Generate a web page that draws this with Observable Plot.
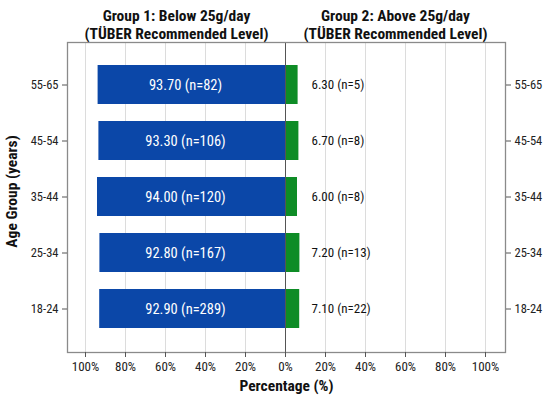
<!DOCTYPE html>
<html>
<head>
<meta charset="utf-8">
<script src="https://cdn.jsdelivr.net/npm/d3@7"></script>
<script src="https://cdn.jsdelivr.net/npm/@observablehq/plot@0.6"></script>
<style>
  html, body { margin: 0; padding: 0; background: #fff; }
</style>
</head>
<body>
<div id="chart"></div>
<script>
const ages = ["18-24", "25-34", "35-44", "45-54", "55-65"];
const belowPct = [92.9, 92.8, 94.0, 93.3, 93.7];
const abovePct = [7.1, 7.2, 6.0, 6.7, 6.3];
const belowN = [289, 167, 120, 106, 82];
const aboveN = [22, 13, 8, 8, 5];
const xTicks = [-100, -80, -60, -40, -20, 0, 20, 40, 60, 80, 100];
const groupTitles = ["Group 1: Below 25g/day\n(TÜBER Recommended Level)", "Group 2: Above 25g/day\n(TÜBER Recommended Level)"];
const xDomain = [-109, 110];

const rows = ages.map((a, i) => ({age: a, below: belowPct[i], above: abovePct[i], nb: belowN[i], na: aboveN[i]}));
const titles = groupTitles.map((t, i) => ({t, x: i === 0 ? (xDomain[0] + 0) / 2 : (xDomain[1] + 0) / 2}));
const yOrder = ages.slice().reverse();

const blue = "#0b47a8";
const green = "#0e8c26";
const font = "'Roboto Condensed', 'Liberation Sans Narrow', 'DejaVu Sans Condensed', sans-serif";

const chart = Plot.plot({
  width: 550,
  height: 400,
  marginLeft: 67,
  marginRight: 45,
  marginTop: 42,
  marginBottom: 48,
  style: {fontFamily: font, background: "#fff"},
  x: {domain: xDomain},
  y: {domain: yOrder, paddingInner: 0.3, paddingOuter: 0.37},
  marks: [
    Plot.gridX(xTicks, {stroke: "#dcdcdc", strokeOpacity: 1, strokeWidth: 1}),
    Plot.barX(rows, {x1: () => 0, x2: d => -d.below, y: "age", fill: blue}),
    Plot.barX(rows, {x1: () => 0, x2: d => d.above, y: "age", fill: green}),
    Plot.ruleX([0], {stroke: "#555", strokeWidth: 1}),
    Plot.frame({stroke: "#8a8a8a", strokeWidth: 1.3}),
    Plot.text(rows, {x: () => -50, y: "age", text: d => `${d.below.toFixed(2)} (n=${d.nb})`, fill: "white", fontSize: 14.5}),
    Plot.text(rows, {x: () => 12, y: "age", text: d => `${d.above.toFixed(2)} (n=${d.na})`, fill: "#111", fontSize: 13, textAnchor: "start", dx: 2}),
    Plot.text(titles, {x: "x", text: "t", frameAnchor: "top", lineAnchor: "bottom", dy: -4, fontSize: 15.5, fontWeight: "bold", fill: "#111", lineHeight: 1.15}),
    Plot.axisX(xTicks, {tickFormat: d => Math.abs(d) + "%", fontSize: 13, tickSize: 5, stroke: "#555", label: null, color: "#222"}),
    Plot.text(["Percentage (%)"], {frameAnchor: "bottom", dy: 38, fontSize: 15.5, fontWeight: "bold", fill: "#111"}),
    Plot.axisY({anchor: "left", fontSize: 12.5, tickSize: 5, stroke: "#555", label: null, color: "#222"}),
    Plot.axisY({anchor: "right", fontSize: 12.5, tickSize: 5, stroke: "#555", label: null, color: "#222"}),
    Plot.text(["Age Group (years)"], {frameAnchor: "left", textAnchor: "middle", dx: -55, dy: -6, rotate: -90, fontSize: 15.5, fontWeight: "bold", fill: "#111"})
  ]
});
document.getElementById("chart").appendChild(chart);
</script>
</body>
</html>
